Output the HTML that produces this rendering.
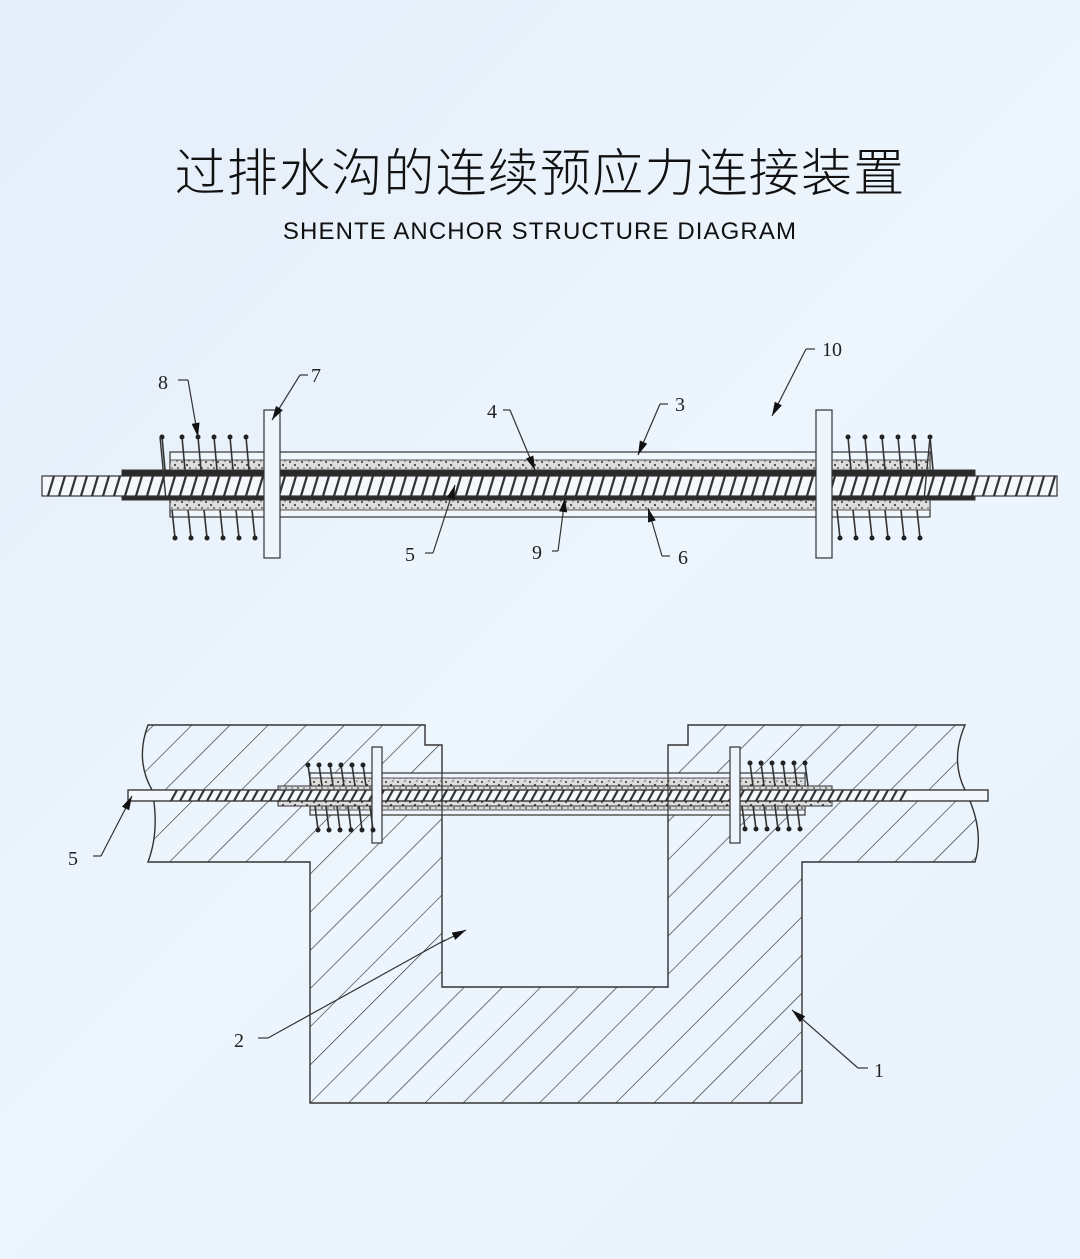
<!DOCTYPE html>
<html><head><meta charset="utf-8"><style>
html,body{margin:0;padding:0}
body{width:1080px;height:1259px;background:linear-gradient(135deg,#e4eef9 0%,#edf5fd 50%,#e8f2fc 100%);font-family:"Liberation Sans","Noto Sans CJK SC",sans-serif;position:relative;overflow:hidden}
.t1{position:absolute;top:132px;left:0;width:1080px;text-align:center;font-size:51px;color:#111;letter-spacing:1.2px;font-weight:300;font-family:"Noto Sans CJK SC",sans-serif}
.t2{position:absolute;top:218px;left:0;width:1080px;text-align:center;font-size:24px;color:#111;letter-spacing:1.1px}
svg{position:absolute;left:0;top:0}
</style></head><body>
<div class="t1">过排水沟的连续预应力连接装置</div>
<div class="t2">SHENTE ANCHOR STRUCTURE DIAGRAM</div>
<svg id="s" width="1080" height="1259" viewBox="0 0 1080 1259" font-family="Liberation Serif, serif" font-size="20" fill="none" stroke="#333">
<defs>
<pattern id="hatch" width="27" height="27" patternUnits="userSpaceOnUse" patternTransform="rotate(45)">
<line x1="0" y1="0" x2="0" y2="27" stroke="#333" stroke-width="1.3"/>
</pattern>
<pattern id="sp" width="12" height="10" patternUnits="userSpaceOnUse">
<rect width="12" height="10" fill="#ddd" stroke="none"/>
<circle cx="2" cy="2" r="1" fill="#333" stroke="none"/><circle cx="7" cy="5" r="1.1" fill="#444" stroke="none"/>
<circle cx="10" cy="8" r="0.9" fill="#333" stroke="none"/><circle cx="4" cy="8" r="0.8" fill="#555" stroke="none"/>
<circle cx="9" cy="1" r="0.8" fill="#555" stroke="none"/>
</pattern>
</defs>
<g id="g"></g>
</svg>
<script>
var g=document.getElementById('g');var h='';
function L(x1,y1,x2,y2,w,c){h+='<line x1="'+x1+'" y1="'+y1+'" x2="'+x2+'" y2="'+y2+'" stroke="'+(c||'#333')+'" stroke-width="'+(w||1.2)+'"/>';}
function R(x,y,w,ht,f,sw){h+='<rect x="'+x+'" y="'+y+'" width="'+w+'" height="'+ht+'" fill="'+(f||'#eef5fd')+'" stroke="#333" stroke-width="'+(sw||1.2)+'"/>';}
function T(x,y,s){h+='<text x="'+x+'" y="'+y+'" fill="#222" stroke="none">'+s+'</text>';}
function A(x1,y1,x2,y2){L(x1,y1,x2,y2,1.2);var dx=x2-x1,dy=y2-y1,l=Math.hypot(dx,dy),ux=dx/l,uy=dy/l;var bx=x2-ux*14,by=y2-uy*14;h+='<polygon points="'+x2+','+y2+' '+(bx-uy*4)+','+(by+ux*4)+' '+(bx+uy*4)+','+(by-ux*4)+'" fill="#111" stroke="none"/>';}
function coilsT(xs,y1,y2){xs.forEach(function(x){L(x,y1,x+3,y2,1.6);h+='<circle cx="'+x+'" cy="'+y1+'" r="2.5" fill="#222" stroke="none"/>';});}
function coilsB(xs,y1,y2){xs.forEach(function(x){L(x-3,y1,x,y2,1.6);h+='<circle cx="'+x+'" cy="'+y2+'" r="2.5" fill="#222" stroke="none"/>';});}
function rod(x1,x2,y,ht,step,tx1,tx2){R(x1,y,x2-x1,ht,'#f4f8fc',1.2);tx1=tx1||x1;tx2=tx2||x2;for(var x=tx1+6;x<tx2-4;x+=step){L(x,y+ht,x+6,y,2.2,'#333');}}
// ===== TOP DIAGRAM =====
R(170,452,760,65,'#f1f6fb');
R(170,460,760,10,'url(#sp)',0.8);R(170,500,760,10,'url(#sp)',0.8);
R(122,470,853,30,'#2a2a2a',1);
rod(42,1057,476,20,11);
R(264,410,16,148,'#eef5fd');R(816,410,16,148,'#eef5fd');
coilsT([162,182,198,214,230,246],437,470);
coilsB([175,191,207,223,239,255],510,538);
coilsT([848,865,882,898,914,930],437,470);
coilsB([840,856,872,888,904,920],510,538);
L(160,437,166,500,1.4);L(930,437,924,500,1.4);
T(158,389,'8');L(178,380,188,380);A(188,380,198,437);
T(311,382,'7');L(300,375,308,375);A(300,375,272,420);
T(487,418,'4');L(503,410,510,410);A(510,410,535,470);
T(675,411,'3');L(660,404,668,404);A(660,404,638,455);
T(822,356,'10');L(806,349,815,349);A(806,349,772,416);
T(405,561,'5');L(425,553,433,553);A(433,553,455,485);
T(532,559,'9');L(552,551,558,551);A(558,551,565,498);
T(678,564,'6');L(670,556,662,556);A(662,556,648,508);
// ===== BOTTOM DIAGRAM =====
var P='M148,725 L425,725 L425,745 L442,745 L442,987 L668,987 L668,745 L688,745 L688,725 L965,725 Q950,760 965,790 Q985,830 975,862 L802,862 L802,1103 L310,1103 L310,862 L148,862 Q160,830 152,790 Q135,760 148,725 Z';
h+='<path d="'+P+'" fill="url(#hatch)" stroke="#333" stroke-width="1.4"/>';
R(310,773,495,42,'#eef5fd');
R(310,778,495,10,'url(#sp)',0.8);R(310,800,495,10,'url(#sp)',0.8);
R(278,786,554,20,'url(#sp)',1);
rod(128,988,790,11,9,165,905);
h+='<rect x="128" y="790" width="860" height="11" fill="none" stroke="#333" stroke-width="1.2"/>';
L(442,773,442,815,1.2);L(668,773,668,815,1.2);
R(372,747,10,96,'#eef5fd');R(730,747,10,96,'#eef5fd');
coilsT([308,319,330,341,352,363],765,786);
coilsB([318,329,340,351,362,373],806,830);
coilsT([750,761,772,783,794,805],763,786);
coilsB([745,756,767,778,789,800],806,829);
T(68,865,'5');L(93,856,101,856);A(101,856,132,796);
T(234,1047,'2');L(258,1038,268,1038);L(268,1038,445,940);A(440,943,466,930);
T(874,1077,'1');L(868,1068,858,1068);A(858,1068,792,1010);
g.innerHTML=h;
</script>
</body></html>
